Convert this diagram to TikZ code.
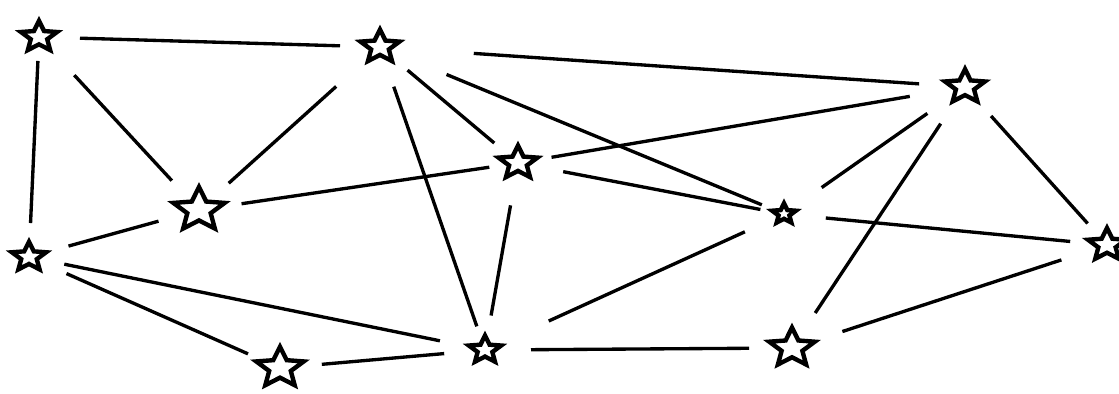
\documentclass[tikz,border=0pt]{standalone}
\usepackage{tikz}
\usetikzlibrary{shapes.geometric}

\begin{document}
\begin{tikzpicture}[
  x=0.02cm,y=-0.02cm,
  pt/.style={star,star points=5,star point ratio=2.2,draw,fill=white,line width=2.5pt,inner sep=0pt,minimum size=#1*0.02cm,yscale=0.85,transform shape},
  link/.style={line width=1.9pt},
  trim/.style 2 args={shorten <=#1*0.02cm,shorten >=#2*0.02cm}
]
\useasboundingbox (0,0) rectangle (1119,394);
\node[pt=38] (nw) at (39,37) {};
\node[pt=41] (n) at (380,47) {};
\node[pt=42] (ne) at (965,87) {};
\node[pt=41] (mid) at (518,163) {};
\node[pt=54] (inw) at (199,210) {};
\node[pt=36] (w) at (29,257) {};
\node[pt=25] (ine) at (784,214) {};
\node[pt=40] (e) at (1107,245) {};
\node[pt=50] (sw) at (280,368) {};
\node[pt=34] (s) at (485,350) {};
\node[pt=48] (se) at (792,348) {};
% edges, cut short near the stars
\draw[link,trim={41}{40}] (nw.center) -- (n.center);
\draw[link,trim={24}{34}] (nw.center) -- (w.center);
\draw[link,trim={52}{40}] (nw.center) -- (inw.center);
\draw[link,trim={59}{40}] (n.center) -- (inw.center);
\draw[link,trim={42}{25}] (n.center) -- (s.center);
\draw[link,trim={36}{31}] (n.center) -- (mid.center);
\draw[link,trim={72}{24}] (n.center) -- (ine.center);
\draw[link,trim={94}{46}] (n.center) -- (ne.center);
\draw[link,trim={56}{34}] (ne.center) -- (mid.center);
\draw[link,trim={46}{46}] (ne.center) -- (ine.center);
\draw[link,trim={44}{42}] (ne.center) -- (se.center);
\draw[link,trim={39}{29}] (ne.center) -- (e.center);
\draw[link,trim={29}{43}] (mid.center) -- (inw.center);
\draw[link,trim={43}{35}] (mid.center) -- (s.center);
\draw[link,trim={46}{24}] (mid.center) -- (ine.center);
\draw[link,trim={43}{70}] (ine.center) -- (s.center);
\draw[link,trim={42}{37}] (ine.center) -- (e.center);
\draw[link,trim={41}{42}] (w.center) -- (inw.center);
\draw[link,trim={36}{46}] (w.center) -- (s.center);
\draw[link,trim={41}{35}] (w.center) -- (sw.center);
\draw[link,trim={42}{41}] (sw.center) -- (s.center);
\draw[link,trim={46}{43}] (s.center) -- (se.center);
\draw[link,trim={53}{48}] (se.center) -- (e.center);
\end{tikzpicture}
\end{document}
